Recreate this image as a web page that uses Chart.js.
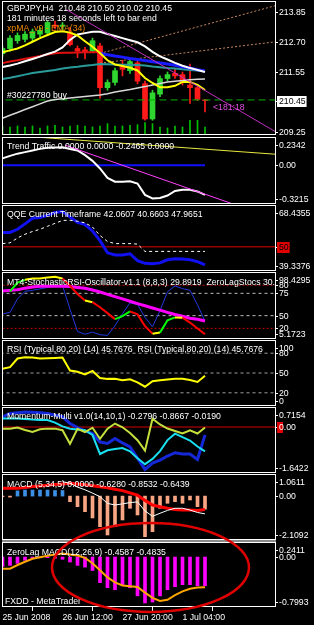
<!DOCTYPE html>
<html lang="en">
  <head>
    <meta charset="UTF-8" />
    <title>GBPJPY,H4</title>
    <script src="https://cdn.jsdelivr.net/npm/chart.js"></script>
    <style>
      html, body { margin: 0; padding: 0; background: #000; overflow: hidden; }
      #wrap { position: relative; width: 314px; height: 625px; background: #000; overflow: hidden; }
      #wrap canvas { position: absolute; left: 0; }
      .t {
        position: absolute; left: 7px; white-space: nowrap; color: #fff;
        font: 8.7px "Liberation Sans", Arial, sans-serif; line-height: 11px;
      }
    </style>
  </head>
  <body>
    <div id="wrap">
      <canvas id="cMain"></canvas>
      <canvas id="cTrend"></canvas>
      <canvas id="cQqe"></canvas>
      <canvas id="cStoch"></canvas>
      <canvas id="cRsi"></canvas>
      <canvas id="cMom"></canvas>
      <canvas id="cMacd"></canvas>
      <canvas id="cZl"></canvas>

      <div class="t" style="top:3px">GBPJPY,H4&nbsp; 210.48 210.50 210.02 210.45</div>
      <div class="t" style="top:13px">181 minutes 18 seconds left to bar end</div>
      <div class="t" style="top:23px; color:#f08c00">xpMA_v9 - EMA(34)</div>
      <div class="t" style="top:90px">#30227780 buy</div>
      <div class="t" style="top:102px; left:213px; color:#e050e0">&lt;181:18</div>
      <div class="t" style="top:141px">Trend Traffic 0.0000 0.0000 -0.2465 0.0000</div>
      <div class="t" style="top:209px">QQE Current Timeframe 42.0607 40.6603 47.9651</div>
      <div class="t" style="top:277px; width:268px; overflow:hidden">MT4-StochasticRSI-Oscillator-v1.1 (8,8,3) 29.8919&nbsp; ZeroLagStocs 30.3046</div>
      <div class="t" style="top:344px">RSI (Typical,80,20) (14) 45.7676&nbsp; RSI (Typical,80,20) (14) 45.7676</div>
      <div class="t" style="top:411px">Momentum-Multi v1.0(14,10,1) -0.2796 -0.8667 -0.0190</div>
      <div class="t" style="top:479px">MACD (5,34,5) 0.0000 -0.6280 -0.8532 -0.6439</div>
      <div class="t" style="top:547px">ZeroLag MACD(12,26,9) -0.4587 -0.4835</div>
      <div class="t" style="top:596px; left:5px">FXDD - MetaTrader</div>

      <svg width="314" height="625" style="position:absolute; left:0; top:0">
        <ellipse cx="150.5" cy="567.5" rx="98.5" ry="44.5" fill="none" stroke="#e00000" stroke-width="2.5" />
      </svg>
    </div>

    <script>
      // H4 bars shown on the chart
      const barTimes = [
        "25 Jun 04:00", "25 Jun 08:00", "25 Jun 12:00", "25 Jun 16:00", "25 Jun 20:00",
        "26 Jun 00:00", "26 Jun 04:00", "26 Jun 08:00", "26 Jun 12:00", "26 Jun 16:00", "26 Jun 20:00",
        "27 Jun 00:00", "27 Jun 04:00", "27 Jun 08:00", "27 Jun 12:00", "27 Jun 16:00", "27 Jun 20:00",
        "30 Jun 00:00", "30 Jun 04:00", "30 Jun 08:00", "30 Jun 12:00", "30 Jun 16:00", "30 Jun 20:00",
        "1 Jul 00:00", "1 Jul 04:00", "1 Jul 08:00", "1 Jul 12:00", "1 Jul 16:00",
      ];
      const xTickBars = [0, 8, 16, 24];
      const xTickLabels = ["25 Jun 2008", "26 Jun 12:00", "27 Jun 20:00", "1 Jul 04:00"];

      // price
      const mainOpen = [212.25, 212.45, 212.75, 212.8, 212.85, 213.0, 213.05, 213.35, 213.3, 213.05, 212.45, 212.4, 212.35, 212.55, 210.95, 211.15, 211.75, 211.6, 211.9, 211.1, 209.75, 210.7, 211.3, 211.5, 211.45, 211.05, 210.95, 210.48];
      const mainHigh = [212.55, 212.95, 213.05, 213.1, 213.2, 213.25, 213.5, 213.5, 213.45, 213.25, 212.55, 212.5, 212.85, 212.65, 211.25, 211.7, 212.0, 212.05, 212.0, 211.2, 210.85, 211.4, 211.55, 211.65, 211.55, 211.85, 211.0, 210.5];
      const mainLow = [212.15, 212.35, 212.65, 212.7, 212.75, 212.9, 212.95, 213.2, 213.15, 212.55, 212.1, 212.05, 212.3, 210.55, 210.85, 211.05, 211.4, 211.5, 211.1, 209.7, 209.7, 210.6, 211.2, 211.3, 211.05, 210.35, 210.45, 210.02];
      const mainClose = [212.45, 212.85, 212.95, 213.0, 213.1, 213.15, 213.45, 213.3, 213.35, 212.6, 212.35, 212.3, 212.75, 210.95, 211.15, 211.6, 211.65, 211.95, 211.2, 209.75, 210.75, 211.3, 211.45, 211.4, 211.15, 210.95, 210.5, 210.45];
      const tickVolume = [500, 480, 540, 480, 540, 420, 540, 580, 480, 540, 580, 540, 480, 540, 680, 540, 540, 580, 620, 740, 680, 480, 420, 540, 480, 880, 880, 480];
      const xpMA = [212.31, 212.38, 212.45, 212.57, 212.71, 212.85, 212.97, 213.08, 213.11, 213.06, 212.95, 212.73, 212.52, 212.28, 212.0, 211.84, 211.78, 211.71, 211.61, 211.32, 211.13, 210.97, 210.97, 211.02, 211.17, 211.17, 211.06, 210.86];
      const upperMA = [211.74, 211.8, 211.87, 211.96, 212.05, 212.14, 212.24, 212.33, 212.49, 212.78, 212.99, 213.04, 213.09, 213.09, 213.01, 212.93, 212.85, 212.77, 212.69, 212.53, 212.32, 212.15, 212.03, 211.9, 211.79, 211.7, 211.63, 211.55];
      const redMA = [211.89, 211.95, 212.0, 212.06, 212.11, 212.16, 212.22, 212.27, 212.29, 212.29, 212.3, 212.31, 212.31, 212.32, null, null, null, null, null, null, null, null, null, null, null, null, null, null];
      const blueMA = [null, null, null, null, null, null, null, null, null, null, null, null, null, 212.26, 212.21, 212.16, 212.12, 212.07, 212.03, 211.99, 211.94, 211.9, 211.86, 211.81, 211.75, 211.7, 211.64, 211.59];
      const tealMA = [211.28, 211.33, 211.39, 211.45, 211.51, 211.55, 211.59, 211.63, 211.68, 211.72, 211.75, 211.79, 211.82, 211.86, 211.85, 211.84, 211.83, 211.83, 211.82, 211.8, 211.76, 211.73, 211.7, 211.68, 211.66, 211.63, 211.61, 211.59];
      const lowerMA = [209.78, 209.89, 210.0, 210.11, 210.22, 210.33, 210.44, 210.5, 210.52, 210.55, 210.58, 210.61, 210.64, 210.67, 210.72, 210.78, 210.83, 210.88, 210.94, 210.99, 211.05, 211.11, 211.17, 211.2, 211.22, 211.25, 211.27, 211.28];
      const channelUpper = [{ x: 13, y: 212.26 }, { x: 36.47, y: 214.1 }];
      const channelLower = [{ x: 13, y: 211.89 }, { x: 36.47, y: 212.71 }];
      const priceTrend = [{ x: 8.6, y: 213.93 }, { x: 36.47, y: 209.25 }];
      const buyPrice = 210.48;
      const bidPrice = 210.45;
      const mainTicks = [213.85, 212.7, 211.55, 209.25];

      // Trend Traffic
      const trendMain = [0.0565, 0.0776, 0.0961, 0.1087, 0.1222, 0.1357, 0.1441, 0.1474, 0.1492, 0.1349, 0.1222, 0.0835, 0.0363, -0.0268, -0.1051, -0.1363, -0.1371, -0.1329, -0.1514, -0.2457, -0.276, -0.2718, -0.2516, -0.2137, -0.2036, -0.2036, -0.2171, -0.2465];
      const trendSignal = [0, 0, 0, 0, 0, 0, 0, 0, 0, 0, 0, 0, 0, 0, 0, 0, 0, 0, 0, 0, 0, 0, 0, 0, 0, 0, 0, 0];
      const trendYellow = [{ x: 0, y: 0.2535 }, { x: 36.47, y: 0.091 }];
      const trendPink = [{ x: 8.33, y: 0.1668 }, { x: 30.73, y: -0.3215 }];
      const trendTicks = [0.2342, 0, -0.3215];
      const trendTickText = ["0.2342", "0.00", "-0.3215"];

      // QQE
      const qqeRsi = [56.35, 56.35, 57.74, 60.11, 62.57, 62.93, 63.87, 65.17, 65.53, 63.15, 60.78, 59.84, 56.98, 52.72, 47.35, 46.41, 46.37, 46.95, 43.9, 42.7, 42.56, 42.92, 44.26, 44.71, 44.67, 44.31, 43.5, 42.06];
      const qqeTrail = [51.42, 51.74, 53.89, 55.54, 56.75, 57.74, 59.04, 60.33, 61.63, 61.72, 61.27, 60.56, 58.72, 55.0, 52.32, 51.42, 51.42, 51.42, 51.2, 47.97, 47.97, 47.97, 47.97, 47.97, 47.97, 47.97, 47.97, 47.97];
      const qqeLevel = 50;
      const qqeTicks = [68.4355, 39.3376];

      // Stochastic RSI + ZeroLagStocs
      const stochRsi = [null, 71.58, 83.59, 87.55, 89.53, 89.53, 90.94, 91.79, 89.39, 79.35, 67.91, 58.87, 56.46, 49.4, 41.2, 32.87, 36.96, 43.6, 39.37, 23.12, 12.38, 14.07, 31.17, 35.27, 34.85, 28.07, 19.87, 11.81];
      const stochMain = [39.93, 42.33, 60.92, 71.58, 72.85, 74.97, 76.95, 78.65, 79.92, 46.57, 15.61, 11.81, 14.78, 11.1, 10.26, 23.54, 40.35, 55.47, 53.07, 35.27, 22.13, 44.73, 70.88, 79.07, 75.26, 72.99, 52.65, 29.89];
      const zeroLagStocs = [72.01, 72.85, 73.7, 75.96, 77.52, 78.51, 78.65, 78.65, 78.65, 78.22, 76.95, 75.68, 73.28, 70.59, 67.34, 64.24, 60.99, 57.73, 54.48, 51.37, 48.27, 45.3, 42.19, 39.36, 36.82, 34.11, 32.58, 30.3];
      const stochLevels = [80, 20];
      const zlsLevels = [75, 50];
      const stochTicks = [98.4295, 80, 20, 5.1723];

      // RSI
      const rsi = [56.3, 58.9, 72.0, 73.8, 73.4, 71.8, 72.3, 72.9, 73.4, 53.8, 51.8, 47.7, 53.1, 42.5, 41.1, 41.4, 39.1, 40.6, 35.8, 29.2, 37.5, 38.9, 40.2, 41.1, 41.1, 39.4, 36.5, 45.77];
      const rsiLevels = [80, 50, 20];
      const rsiTicks = [100, 80, 50, 20, 0];

      // Momentum-Multi
      const momSlow = [0.3636, 0.4869, 0.5123, 0.5377, 0.5304, 0.5087, 0.4833, 0.4252, 0.3672, 0.1242, -0.0173, -0.1406, -0.2313, -0.5359, -0.5867, -0.4126, -0.5686, -0.7064, -1.109, -1.5152, -1.2903, -1.1815, -1.0364, -0.9168, -0.9603, -0.9639, -1.1598, -0.2796];
      const momMid = [0.3055, 0.3055, 0.3055, 0.2837, 0.2656, 0.2548, 0.2475, 0.1568, 0.0226, -0.0608, -0.0898, -0.1116, -0.2857, -0.9639, -0.8297, -0.7825, -0.7499, -0.866, -1.1163, -1.3266, -1.138, -0.8624, -0.467, -0.2385, -0.3618, -0.4815, -0.6955, -0.8667];
      const momFast = [-0.0571, -0.0571, -0.0209, -0.1043, -0.1768, -0.0825, -0.0571, -0.0571, -0.1152, -0.6012, -0.0644, -0.1805, -0.0245, -0.4199, -0.0608, 0.1242, -0.01, -0.2131, -0.4706, -0.8442, 0.2947, 0.0916, -0.0535, -0.1442, -0.2313, -0.1188, -0.2313, -0.019];
      const momTicks = [0.7154, 0, -1.6422];
      const momTickText = ["0.7154", "0.00", "-1.6422"];

      // MACD (5,34,5)
      const macdHist = [-0.03, -0.05, 0.25, 0.29, 0.29, 0.29, 0.29, 0.27, 0.27, -0.269, -0.509, -0.75, -1.05, -1.47, -1.868, -1.47, -1.148, -0.586, -0.908, -1.95, -1.71, -0.586, -0.346, -0.269, -0.346, -0.187, -0.509, -0.628];
      const macdLine = [null, null, null, null, null, null, null, null, 0.692, 0.615, 0.432, 0.303, 0.144, -0.029, -0.351, -0.427, -0.375, -0.312, -0.279, -0.711, -0.97, -0.826, -0.687, -0.586, -0.586, -0.668, -0.788, -0.8532];
      const macdSignal = [0.375, 0.375, 0.375, 0.418, 0.461, 0.49, 0.524, 0.552, 0.581, 0.615, 0.581, 0.543, 0.5, 0.451, 0.394, 0.327, 0.264, 0.154, 0.043, -0.207, -0.427, -0.509, -0.581, -0.648, -0.668, -0.668, -0.687, -0.6439];
      const macdTicks = [1.0611, 0, -2.1092];
      const macdTickText = ["1.0611", "0.00", "-2.1092"];

      // ZeroLag MACD (12,26,9)
      const zlHist = [-0.15, -0.133, -0.101, -0.052, -0.02, -0.011, -0.01, -0.02, -0.036, -0.08, -0.133, -0.161, -0.215, -0.41, -0.491, -0.523, -0.458, -0.491, -0.621, -0.735, -0.719, -0.621, -0.523, -0.475, -0.442, -0.442, -0.458, -0.4587];
      const zlSignal = [-0.187, -0.187, -0.127, -0.075, -0.028, -0.003, 0.021, 0.041, 0.055, 0.042, 0.026, -0.013, -0.099, -0.21, -0.325, -0.405, -0.455, -0.467, -0.48, -0.569, -0.654, -0.702, -0.683, -0.608, -0.548, -0.507, -0.486, -0.4835];
      const zlTicks = [0.2411, 0, -0.7993];
      const zlTickText = ["0.2411", "0.00", "-0.7993"];

      // ---- drawing ----
      const FONT = '"Liberation Sans", Arial, sans-serif';
      const X_MIN = -1 / 15;
      const X_MAX = 36.4667;
      const barIdx = barTimes.map((t, i) => i);

      // MT4 style frame + right price labels
      const mtFrame = {
        id: "mtFrame",
        afterDraw(chart, args, opts) {
          const { ctx, chartArea: a } = chart;
          ctx.save();
          if (opts.band) {
            ctx.fillStyle = opts.band;
            ctx.fillRect(a.left, 0, a.right - a.left, 3);
          }
          ctx.strokeStyle = "#fff";
          ctx.lineWidth = 1;
          ctx.strokeRect(a.left + 0.5, a.top + 0.5, a.right - a.left - 1, a.bottom - a.top - 1);
          ctx.font = "8.7px " + FONT;
          ctx.textBaseline = "middle";
          ctx.textAlign = "left";
          (opts.ticks || []).forEach((t) => {
            const sc = chart.scales[t.axis || "y"];
            let y = sc.getPixelForValue(t.value);
            if (t.value >= sc.max) y = a.top + 8;
            else if (t.value <= sc.min) y = a.bottom - 5;
            y = Math.round(y);
            ctx.strokeStyle = "#fff";
            ctx.beginPath();
            ctx.moveTo(a.right, y + 0.5);
            ctx.lineTo(a.right + 2, y + 0.5);
            ctx.stroke();
            const w = ctx.measureText(t.text).width;
            if (t.box) {
              ctx.fillStyle = t.box;
              ctx.fillRect(a.right + 1, y - 5, w + 3, 11);
            }
            if (t.mark) {
              ctx.fillStyle = t.mark;
              ctx.fillRect(a.right + 1, y - 5, 6, 11);
            }
            ctx.fillStyle = t.color || "#fff";
            ctx.fillText(t.text, a.right + 3, y + 0.5);
          });
          ctx.restore();
        },
      };

      function line(data, color, width, extra) {
        return Object.assign(
          { type: "line", data: data, borderColor: color, borderWidth: width, pointRadius: 0, tension: 0, fill: false, clip: 0 },
          extra || {}
        );
      }
      function hline(value, color, width, dash, axis) {
        return line([{ x: X_MIN - 1, y: value }, { x: X_MAX + 1, y: value }], color, width, { borderDash: dash || [], yAxisID: axis || "y" });
      }
      function bars(data, color, thickness, axis) {
        return { type: "bar", data: data, backgroundColor: color, barThickness: thickness, grouped: false, borderWidth: 0, clip: 0, yAxisID: axis || "y" };
      }
      function ticksOf(values, texts) {
        return values.map((v, i) => ({ value: v, text: texts ? texts[i] : String(v) }));
      }

      function panel(id, top, bottom, cfg) {
        const cv = document.getElementById(id);
        const h = bottom - top + 1 + (cfg.xAxis ? 18 : 0);
        cv.width = 314;
        cv.height = h;
        cv.style.top = top + "px";
        const x = { type: "linear", min: X_MIN, max: X_MAX, offset: false, display: false };
        if (cfg.xAxis) {
          Object.assign(x, {
            display: true,
            position: "bottom",
            afterBuildTicks: (s) => { s.ticks = xTickBars.map((v) => ({ value: v })); },
            afterFit: (s) => { s.height = 18; },
            ticks: {
              color: "#fff", font: { family: FONT, size: 8.7 }, align: "start",
              maxRotation: 0, autoSkip: false, padding: 1,
              callback: (v, i) => xTickLabels[i],
            },
            grid: { display: true, drawOnChartArea: false, drawTicks: true, tickLength: 4, color: "#fff" },
            border: { display: false },
          });
        }
        const scales = Object.assign(
          { x: x, y: { type: "linear", min: cfg.min, max: cfg.max, display: false } },
          cfg.scales || {}
        );
        return new Chart(cv, {
          type: "line",
          data: { labels: barIdx, datasets: cfg.datasets },
          options: {
            responsive: false,
            animation: false,
            devicePixelRatio: 1,
            events: [],
            layout: { padding: { left: 2, right: 38, top: cfg.padTop || 0, bottom: 0 } },
            scales: scales,
            plugins: {
              legend: { display: false },
              tooltip: { enabled: false },
              mtFrame: { ticks: cfg.ticks, band: cfg.band },
            },
          },
          plugins: [mtFrame],
        });
      }

      // main price window
      const candleCol = mainClose.map((c, i) => (c >= mainOpen[i] ? "#2fd62f" : "#ff1a1a"));
      panel("cMain", 1, 134, {
        min: 209.135,
        max: 214.272,
        scales: { yv: { type: "linear", min: 0, max: 8000, display: false } },
        ticks: ticksOf(mainTicks, mainTicks.map((v) => v.toFixed(2))).concat([
          { value: bidPrice, text: bidPrice.toFixed(2), box: "#fff", color: "#000" },
        ]),
        datasets: [
          line(priceTrend, "#c030c0", 1),
          line(xpMA, "#ffff00", 2),
          line(upperMA, "#ffffff", 2),
          line(blueMA, "#1a1aff", 3),
          line(redMA, "#e01010", 2),
          line(tealMA, "#2a9a9a", 2),
          line(lowerMA, "#d8d8d8", 1.5),
          line(channelUpper, "#c8865a", 1, { borderDash: [2, 2] }),
          line(channelLower, "#c8865a", 1, { borderDash: [2, 2] }),
          hline(buyPrice, "#00b000", 1, [7, 4]),
          bars(mainOpen.map((o, i) => [o, mainClose[i]]), candleCol, 5),
          bars(mainLow.map((l, i) => [l, mainHigh[i]]), candleCol, 1),
          bars(tickVolume, "#00c000", 1, "yv"),
        ],
      });

      // Trend Traffic
      panel("cTrend", 137, 203, {
        min: -0.3215,
        max: 0.2342,
        ticks: ticksOf(trendTicks, trendTickText),
        datasets: [
          line(trendPink, "#ff40ff", 1),
          line(trendMain, "#ffffff", 2),
          line(trendSignal, "#1010ff", 2),
          line(trendYellow, "#e8e840", 1),
        ],
      });

      // QQE
      panel("cQqe", 205, 270, {
        min: 39.3376,
        max: 68.4355,
        ticks: ticksOf(qqeTicks).concat([{ value: qqeLevel, text: String(qqeLevel), box: "#e00000", color: "#000" }]),
        datasets: [
          line(qqeTrail, "#ffffff", 1, { borderDash: [3, 3] }),
          line(qqeRsi, "#1010f0", 3),
          hline(qqeLevel, "#e00000", 1),
        ],
      });

      // Stochastic RSI
      panel("cStoch", 272, 338, {
        min: 5.1723,
        max: 98.4295,
        scales: { y2: { type: "linear", min: 23.86, max: 98.86, display: false } },
        ticks: ticksOf(stochTicks).concat(zlsLevels.map((v) => ({ value: v, text: String(v), axis: "y2" }))),
        datasets: [
          line(stochRsi, "#ffff00", 2, {
            segment: {
              borderColor: (c) => {
                const d = c.p1.parsed.y - c.p0.parsed.y;
                return d > 2.5 ? "#00ff00" : d < -2.5 ? "#ff0000" : "#ffff00";
              },
            },
          }),
          line(zeroLagStocs, "#ff00ff", 3),
          line(stochMain, "#2238e0", 1),
        ]
          .concat(stochLevels.map((v) => hline(v, "#c00000", 1, [2, 2])))
          .concat(zlsLevels.map((v) => hline(v, "#bbbbbb", 1, [3, 3], "y2"))),
      });

      // RSI
      panel("cRsi", 340, 405, {
        min: 0,
        max: 100,
        ticks: ticksOf(rsiTicks),
        datasets: [line(rsi, "#ffff00", 2)].concat(rsiLevels.map((v) => hline(v, "#a0a0a0", 1, [3, 3]))),
      });

      // Momentum
      panel("cMom", 407, 472, {
        min: -1.6422,
        max: 0.7154,
        ticks: ticksOf(momTicks, momTickText).map((t) => (t.value === 0 ? Object.assign(t, { mark: "#e00000" }) : t)),
        datasets: [
          line(momFast, "#c4e03c", 2),
          line(momMid, "#19e0f0", 2),
          line(momSlow, "#1428d8", 3),
          hline(0, "#d00000", 1),
        ],
      });

      // MACD
      panel("cMacd", 474, 539, {
        min: -2.1092,
        max: 1.0611,
        ticks: ticksOf(macdTicks, macdTickText),
        datasets: [
          line(macdLine, "#ffffff", 1),
          line(macdSignal, "#ff0000", 3),
          bars(macdHist, macdHist.map((v) => (v >= 0 ? "#3d8fe6" : "#f7a583")), 3),
        ],
      });

      // ZeroLag MACD + time axis
      panel("cZl", 540, 606, {
        min: -0.7993,
        max: 0.2411,
        padTop: 2,
        band: "#8a8a8a",
        xAxis: true,
        ticks: ticksOf(zlTicks, zlTickText),
        datasets: [line(zlSignal, "#ffa500", 2), bars(zlHist, "#ff00ff", 3)],
      });
    </script>
  </body>
</html>
